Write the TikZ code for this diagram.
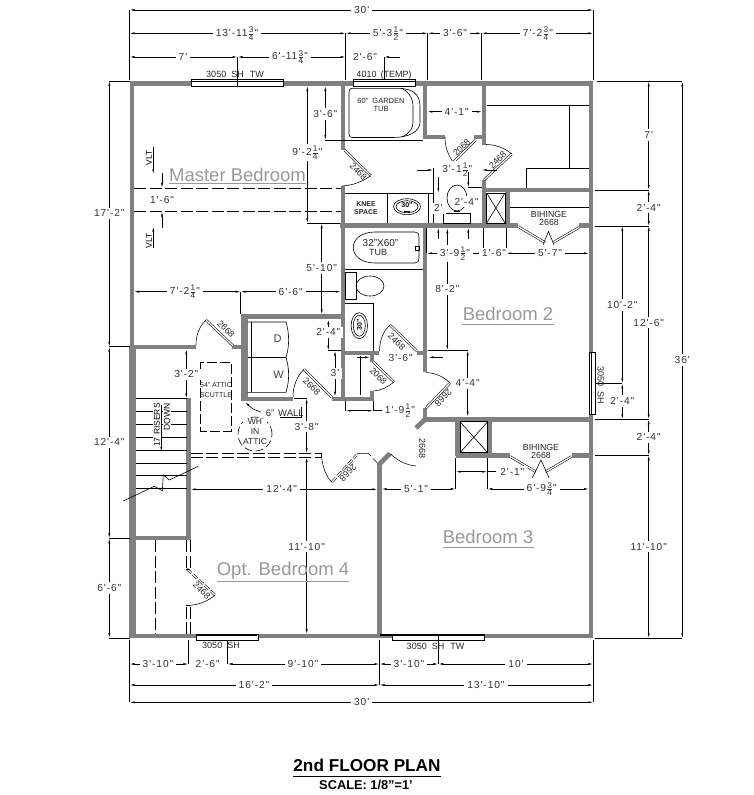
\documentclass[tikz,border=0pt]{standalone}
\usepackage{fontspec}
\setmainfont{Liberation Sans}
\newfontfamily\dimfont[LetterSpace=9]{Liberation Sans}
\usetikzlibrary{arrows.meta}
\definecolor{wallc}{HTML}{808080}
\definecolor{roomc}{HTML}{999999}
\newcommand{\fr}[2]{\mbox{$\frac{\hbox{\fontsize{8.3}{8.3}\selectfont\rmfamily #1}}{\hbox{\fontsize{8.3}{8.3}\selectfont\rmfamily #2}}$}}
\newcommand{\hd}[5]{\draw[dim] (#2,#1) -- (#3,#1); \node[lab] at (#4,#1) {#5};}
\newcommand{\vd}[5]{\draw[dim] (#1,#2) -- (#1,#3); \node[lab] at (#1,#4) {#5};}
\tikzset{
  wall/.style={draw=wallc,line width=4.8pt,line cap=butt,line join=miter},
  thin/.style={draw=black,line width=.6pt},
  leaf/.style={draw=black,double=white,double distance=1.3pt,line width=.55pt},
  swing/.style={draw=black,line width=.55pt},
  hid/.style={draw=black,line width=.6pt,dash pattern=on 12pt off 3.5pt},
  ext/.style={draw=black,line width=.6pt},
  tipb/.style={line width=.6pt,-{Latex[length=5pt,width=2pt]}},
  dim/.style={line width=.6pt,{Latex[length=5pt,width=2pt]}-{Latex[length=5pt,width=2pt]}},
  lab/.style={fill=white,inner xsep=3pt,inner ysep=2pt,text=black!80,font=\dimfont\fontsize{10.2}{11}\selectfont},
  tag/.style={inner sep=0pt,text=black!85,font=\fontsize{9}{9}\selectfont},
  room/.style={inner sep=0pt,text=roomc,font=\fontsize{18.5}{19}\selectfont},
}
\begin{document}
\begin{tikzpicture}[x=1pt,y=-1pt]
\useasboundingbox (0,0) rectangle (754,795);
% ---- outer and inner walls
\draw[wall] (192,83.5) -- (132,83.5) -- (132,636) -- (197,636);
\draw[wall,line width=6.7pt] (132.7,347) -- (132.7,638);
\draw[wall] (283,83.5) -- (353,83.5);
\draw[wall] (415,83.5) -- (591,83.5) -- (591,353);
\draw[wall] (591,414) -- (591,636) -- (484,636);
\draw[wall] (258,636) -- (393,636);
\draw[wall] (343,83.5) -- (343,150);
\draw[wall] (343,186) -- (343,399);
\draw[wall] (340,225.5) -- (518,225.5);
\draw[wall] (579,225.5) -- (589,225.5);
\draw[wall] (425,83.5) -- (425,137) -- (445,137);
\draw[wall] (474,137) -- (484,137);
\draw[wall] (484,83.5) -- (484,144.5);
\draw[wall] (484,180) -- (484,226);
\draw[wall] (484,190) -- (589,190);
\draw[wall] (507.3,188) -- (507.3,226);
\draw[wall] (425,225) -- (425,372);
\draw[wall] (425,408) -- (425,421);
\draw[wall] (345,353) -- (379,353);
\draw[wall] (417,353) -- (427,353);
\draw[wall] (333,399) -- (372,399) -- (372,391.3);
\draw[wall] (372,353) -- (372,361.5);
\draw[wall] (425,419.3) -- (589,419.3);
\draw[wall] (426.5,418) -- (416,428);
\draw[wall] (457.8,419) -- (457.8,455.5);
\draw[wall] (490,419) -- (490,455.5);
\draw[wall] (455.5,455.5) -- (510,455.5);
\draw[wall] (571.7,455.5) -- (589,455.5);
\draw[wall] (134,347) -- (196,347);
\draw[wall] (232,347) -- (241,347);
\draw[wall,line width=7pt] (244.2,314) -- (244.2,401);
\draw[wall] (241,316.8) -- (341,316.8);
\draw[wall] (241,399) -- (293,399);
\draw[wall] (332,399) -- (345,399);
\draw[wall] (188.7,398.3) -- (188.7,540);
\draw[wall] (134,538) -- (191,538);
\draw[wall] (390,453.5) -- (379.5,464) -- (379.5,636);
% ---- windows
\foreach \xa/\xb in {191.5/283.5,353/415}{
  \fill[white] (\xa,79.5) rectangle (\xb,86);
  \draw[thin] (\xa,79.5) rectangle (\xb,86);
  \draw[thin] (\xa,81.5) -- (\xb,81.5);}
\draw[thin] (237.5,79.5) -- (237.5,86);
\draw[thin] (196.7,634) rectangle (258.3,640);
\draw[line width=2pt] (197,634.6) -- (257,634.6);
\draw[thin] (392.3,634) rectangle (484.3,640);
\draw[line width=2pt] (380,634.6) -- (393,634.6);
\draw[line width=1.6pt] (393,635) -- (484,635);
\draw[thin] (438.3,634) -- (438.3,640);
\fill[white] (589.3,352.7) rectangle (595.7,414);
\draw[thin] (589.3,352.7) rectangle (595.7,414);
\draw[thin] (591.5,352.7) -- (591.5,414);
\draw[line width=1.5pt] (589.5,408) -- (589.5,414);
% ---- fixtures, master bath
\draw[thin] (345,140) -- (422.7,140);
\draw[thin] (352,88.3) -- (398,88.3) .. controls (412,88.3) and (420,94) .. (420,106) -- (420,122) .. controls (420,132) and (408,137.5) .. (393,137.5) -- (352,137.5) .. controls (350,137.5) and (349,136) .. (349,134) -- (349,92) .. controls (349,90) and (350,88.3) .. (352,88.3);
\draw[thin] (402,88.3) .. controls (411,94) and (413,100) .. (413,106) -- (413,122) .. controls (413,128) and (410,133) .. (402,137);
\draw[thin] (345,193) -- (433.3,193);
\draw[thin] (387,193) -- (387,223);
\draw[thin] (427.8,193) -- (427.8,223);
\draw[thin] (433.3,168) -- (433.3,223);
\draw[thin] (407,206.7) ellipse [x radius=13.5pt,y radius=8pt];
\draw[thin] (407,206.7) ellipse [x radius=11pt,y radius=6pt];
\node[inner sep=0pt,font=\bfseries\fontsize{7}{7}\selectfont] (s1) at (407,205.5) {30"};
\draw[thin] (404,211) -- (410,211);
\draw[thin] (457,198) ellipse [x radius=10pt,y radius=13pt];
\draw[thin] (443.3,213.3) rectangle (470.7,223);
\draw[thin] (454,211) -- (460,211);
% closets upper right
\draw[thin] (486.5,105.3) -- (589,105.3);
\draw[thin] (569.3,105.3) -- (569.3,168);
\draw[thin] (526.3,187.5) -- (526.3,168) -- (589,168);
\draw[thin] (509.5,207.3) -- (589,207.3);
\draw[thin] (486.7,193) rectangle (505,223);
\draw[thin] (486.7,193) -- (505,223) (505,193) -- (486.7,223);
% lower bath
\draw[thin] (345,269.3) -- (422.7,269.3);
\draw[thin] (375,232) -- (415,232) .. controls (418,232) and (419,234) .. (419,237) -- (419,258) .. controls (419,261) and (418,263) .. (415,263) -- (375,263) .. controls (346,263) and (346,232) .. (375,232);
\draw[thin] (415.5,246.5) rectangle (419,250);
\draw[thin] (345,272) rectangle (356,299);
\draw[thin] (370,286) ellipse [x radius=14pt,y radius=10pt];
\draw[thin] (345,303) -- (373.7,303) -- (373.7,350.5);
\draw[thin] (359.3,325.7) ellipse [x radius=8.2pt,y radius=13pt];
\draw[thin] (359.3,325.7) ellipse [x radius=6pt,y radius=10.5pt];
\node[inner sep=0pt,rotate=90,font=\bfseries\fontsize{7}{7}\selectfont] (s2) at (359.5,324.5) {30"};
% X closet lower
\draw[thin] (460,421.7) rectangle (487.7,452.7);
\draw[thin] (460,421.7) -- (487.7,452.7) (487.7,421.7) -- (460,452.7);
% laundry
\draw[thin] (250.8,322) -- (250.8,392.3);
\draw[thin] (247.5,322) -- (286,322) .. controls (289.5,334) and (289.5,346) .. (286,357.3) .. controls (289.5,369) and (289.5,381) .. (286,392.3) -- (247.5,392.3);
\draw[thin] (247.5,357.3) -- (286,357.3);
\node[inner sep=0pt,text=black!75,font=\fontsize{11}{11}\selectfont] (dryer) at (277.5,338.5) {D};
\node[inner sep=0pt,text=black!75,font=\fontsize{11}{11}\selectfont] (washer) at (278.5,375) {W};
% stairs
\foreach \yy in {398.3,411.3,424.3,437.3,450.3,463.3,475.7,488.3}{\draw[thin] (136,\yy) -- (187,\yy);}
\draw[thin] (123.3,501) -- (154.3,486.3) -- (162.3,490.7) -- (163.3,475) -- (169.3,480) -- (198.3,466.3);
\node[inner sep=1pt,fill=white,rotate=90,font=\fontsize{8.5}{8.5}\selectfont] (riser) at (157,425) {17 RISERS};
\node[inner sep=1pt,fill=white,rotate=90,font=\fontsize{8.5}{8.5}\selectfont] (down) at (167,416.7) {DOWN};
\draw[tipb] (161.3,405) -- (161.3,452);
% ---- doors
\draw[leaf] (344.5,150) -- (370.7,175.7);
\draw[swing] (370.7,175.7) .. controls (362,182) and (352,185.5) .. (342,186);
\draw[leaf] (453.3,162.3) -- (475.7,140);
\draw[swing] (445,137) .. controls (445,147) and (448,155) .. (453.3,162.3);
\draw[leaf] (484,180) -- (511.7,154);
\draw[swing] (511.7,154) .. controls (505,148) and (495,144.5) .. (486,144.5);
\draw[leaf] (518,226.5) -- (545,242.5);
\draw[leaf] (579,227.5) -- (553,242.5);
\draw[swing] (543,245) -- (548.5,231.5) -- (554,245);
\draw[leaf] (510,456.5) -- (535.7,471.7);
\draw[leaf] (571.7,456.5) -- (545.7,471.7);
\draw[swing] (532.3,477.7) -- (541,460) -- (549,477.7);
\draw[leaf] (417,351) -- (390,325);
\draw[swing] (390,325) .. controls (383,331) and (379.5,341) .. (379.5,351);
\draw[leaf] (373,361.5) -- (394,382);
\draw[swing] (394,382) .. controls (388,387) and (381,390.5) .. (373.5,391);
\draw[leaf] (450,383) -- (426,408);
\draw[swing] (426,372.5) .. controls (436,373) and (444,377) .. (450,383);
\draw[leaf] (416,428.5) -- (416,466);
\draw[swing] (416,466) .. controls (405,465) and (397,460) .. (390,453.5);
\draw[leaf] (206,320) -- (233,345.7);
\draw[swing] (196,345) .. controls (196,335) and (199,327) .. (206,320);
\draw[leaf] (304,369.3) -- (332,397.5);
\draw[swing] (293,397) .. controls (293,386) and (297,376) .. (304,369.3);
\draw[leaf,dash pattern=on 6pt off 2pt] (332,482) -- (356.7,455);
\draw[swing] (321.7,458) .. controls (323,468) and (326,476) .. (331.7,482.3);
\draw[thin] (356.7,453.3) -- (368.3,453.3) -- (371,456);
\draw[thin] (373,458.5) -- (377,462.5);
\draw[leaf,dash pattern=on 6pt off 2pt] (187,569) -- (215,595);
\draw[swing] (215,595) .. controls (208,601) and (200,604.5) .. (190,605.3);
% ---- hidden lines
\draw[hid] (134,188.3) -- (341,188.3);
\draw[hid] (134,211.3) -- (341,211.3);
\draw[hid] (190.5,453.3) -- (321.7,453.3);
\draw[hid] (190.5,457.3) -- (321.7,457.3);
\draw[swing] (321.7,453.3) -- (321.7,458);
\draw[hid] (155.3,540) -- (155.3,634);
\foreach \xx in {186.3,190.3}{\draw[hid] (\xx,540) -- (\xx,569); \draw[hid] (\xx,634) -- (\xx,605.3);}
\draw[swing] (186.3,605.3) -- (190.3,605.3);
\draw[swing] (186.3,569) -- (190.3,569);
\draw[hid,dash pattern=on 10pt off 3pt] (200.7,362.3) rectangle (231.3,431);
\draw[hid,dash pattern=on 8pt off 3.5pt] (255,434) circle [radius=17pt];
% ---- extension lines
\draw[ext] (129.5,10) -- (129.5,80) (593.3,10) -- (593.3,80);
\draw[ext] (345.7,33.3) -- (345.7,80) (427.7,33.3) -- (427.7,80) (481.7,33.3) -- (481.7,80);
\draw[ext] (237.5,57) -- (237.5,80) (384,57) -- (384,79);
\draw[ext] (109,81) -- (129.5,81) (109,346.7) -- (130,346.7) (109,538.3) -- (130,538.3) (109,638.3) -- (129.5,638.3);
\draw[ext] (129.5,640) -- (129.5,702.3) (593.3,640) -- (593.3,702.3) (379.5,640) -- (379.5,685);
\draw[ext] (188.3,640) -- (188.3,664) (227.5,640) -- (227.5,664) (438.3,640) -- (438.3,664);
\draw[ext] (597,81.3) -- (682.3,81.3) (595,190) -- (648.7,190) (595,226) -- (648.7,226) (596,383.3) -- (622.3,383.3) (595,419.3) -- (648.7,419.3) (595,455.3) -- (648.7,455.3) (595,638.3) -- (682.3,638.3);
\draw[ext] (325.3,140) -- (345,140) (307.3,223.3) -- (340,223.3);
\draw[ext] (240.7,291.7) -- (240.7,314) (328.3,350.7) -- (341,350.7) (293.5,398.3) -- (306.7,398.3);
\draw[ext] (455.7,458) -- (455.7,489) (487.3,458) -- (487.3,489);
\draw[ext] (468.3,187.3) -- (482,187.3);
\draw[ext] (427.5,350.3) -- (467.7,350.3);
\draw[ext] (426.7,228) -- (426.7,253.3) (483.3,228) -- (483.3,253.3) (506.3,228) -- (506.3,253.3);
\draw[ext] (360.7,355.5) -- (360.7,395);
\draw[ext] (345.7,401) -- (345.7,410.7) (373.3,401) -- (373.3,410.7);
% ---- dimensions: top
\hd{10}{129.5}{593.3}{361.7}{30'}
\hd{33.3}{129.5}{345.7}{237}{13'-11\fr{3}{4}"}
\hd{33.3}{345.7}{427.7}{388}{5'-3\fr{1}{2}"}
\hd{33.3}{427.7}{481.7}{455}{3'-6"}
\hd{33.3}{481.7}{593.3}{538}{7'-2\fr{3}{4}"}
\hd{57}{129.5}{237.5}{183}{7'}
\hd{57}{237.5}{345.7}{290}{6'-11\fr{3}{4}"}
\draw[tipb] (400,57) -- (384,57);
\node[lab] (d1) at (365,57) {2'-6"};
% left
\vd{109.3}{81}{346.7}{213.3}{17'-2"}
\vd{109.3}{346.7}{538.3}{442.3}{12'-4"}
\vd{109.3}{538.3}{638}{588}{6'-6"}
% bottom
\hd{664}{129.5}{188.3}{158}{3'-10"}
\draw[dim] (227.5,664) -- (379.5,664);
\node[lab] (d2) at (303,664) {9'-10"};
\node[lab] (d3) at (207.7,664) {2'-6"};
\hd{664}{379.5}{438.3}{409}{3'-10"}
\hd{664}{438.3}{593.3}{516}{10'}
\hd{685}{129.5}{379.5}{254}{16'-2"}
\hd{685}{379.5}{593.3}{486}{13'-10"}
\hd{702.3}{129.5}{593.3}{361.7}{30'}
% right
\vd{648.7}{81.3}{190}{135}{7'}
\vd{648.7}{190}{226}{207.7}{2'-4"}
\vd{648.7}{226}{419.3}{322.7}{12'-6"}
\vd{648.7}{419.3}{455.3}{437.3}{2'-4"}
\vd{648.7}{455.3}{638.3}{546.7}{11'-10"}
\vd{682.3}{81.3}{638.3}{360}{36'}
\vd{622.3}{226}{383.3}{305}{10'-2"}
\vd{622.3}{383.3}{419.3}{401}{2'-4"}
% interior
\vd{325.3}{86}{140}{114}{3'-6"}
\vd{307.3}{86}{223.3}{152.7}{9'-2\fr{1}{4}"}
\vd{321.7}{223.3}{314.3}{268}{5'-10"}
\draw[tipb] (162,173) -- (162,188);
\draw[tipb] (162,228) -- (162,211.5);
\node[lab] (d4) at (162,200) {1'-6"};
\draw[tipb] (153.3,147) -- (153.3,174);
\draw[tipb] (153.3,248) -- (153.3,226.7);
\node[inner sep=0pt,rotate=90,font=\fontsize{8.5}{8.5}\selectfont] (v1) at (149,158) {VLT};
\node[inner sep=0pt,rotate=90,font=\fontsize{8.5}{8.5}\selectfont] (v2) at (149,241) {VLT};
\hd{291.7}{134}{240.7}{185}{7'-2\fr{1}{4}"}
\hd{291.7}{240.7}{340.7}{290.7}{6'-6"}
\vd{328.3}{319.3}{350.7}{332.3}{2'-4"}
\vd{335}{350.7}{396.7}{373.3}{3'}
\vd{186.3}{349.3}{398.3}{374.3}{3'-2"}
\vd{306.7}{398.3}{453.3}{426.7}{3'-8"}
\vd{306.7}{457.3}{634}{546.7}{11'-10"}
\hd{489.3}{190.7}{377.3}{281.7}{12'-4"}
\hd{489}{381.7}{455.7}{416}{5'-1"}
\hd{489}{487.3}{589}{541.7}{6'-9\fr{3}{4}"}
\draw[dim] (455.7,471.7) -- (487.3,471.7);
\draw[thin] (487.3,471.7) -- (496,471.7);
\node[lab] (d5) at (512.3,471.7) {2'-1"};
\hd{111.7}{427.3}{482}{456.7}{4'-1"}
\draw[tipb] (417.3,170) -- (433.3,170);
\draw[tipb] (497,170) -- (481.7,170);
\node[lab] (d6) at (457.3,170) {3'-1\fr{1}{2}"};
\draw[tipb] (438.3,176.7) -- (438.3,193);
\draw[tipb] (438.3,239) -- (438.3,227.5);
\node[lab] (d7) at (438.3,208.3) {2'};
\draw[tipb] (468.3,171.7) -- (468.3,187.3);
\draw[tipb] (468.3,239) -- (468.3,227.5);
\node[lab] (d8) at (466.5,201.7) {2'-4"};
\vd{447.3}{228}{350.3}{289.3}{8'-2"}
\vd{467.7}{350.3}{416.7}{383.3}{4'-4"}
\hd{253.3}{426.7}{483.3}{455}{3'-9\fr{1}{2}"}
\hd{253.3}{483.3}{506.3}{494}{1'-6"}
\hd{253.3}{506.3}{589}{550}{5'-7"}
\draw[tipb] (357,357.3) -- (370,357.3);
\draw[tipb] (443,357.3) -- (428.3,357.3);
\node[lab] (d9) at (400.7,357.6) {3'-6"};
\draw[dim] (345.7,410.7) -- (373.3,410.7);
\draw[thin] (373.3,410.7) -- (383,410.7);
\node[lab] (d10) at (400,410.7) {1'-9\fr{1}{2}"};
% leader
\draw[thin,{Latex[length=5pt,width=2pt]}-] (245,402.3) -- (253,409) -- (260.7,412);
\node[tag,font=\fontsize{9.5}{9.5}\selectfont] (wl0) at (270,413) {6"};
\node[tag,font=\fontsize{9.5}{9.5}\selectfont] (wl) at (291,413) {WALL};
\draw[thin] (280,417.3) -- (301.7,417.3) -- (301.7,407);
% ---- text labels
\node[tag] (t1) at (235,74) {3050\hspace{5pt}SH\hspace{6pt}TW};
\node[tag] (t2) at (384,75) {4010\hspace{4pt}(TEMP)};
\node[tag] (t3) at (221,645.7) {3050\hspace{5pt}SH};
\node[tag] (t4) at (435.5,646) {3050\hspace{5pt}SH\hspace{6pt}TW};
\node[tag,rotate=-90] (t5) at (600.7,385) {3050\hspace{5pt}SH};
\node[tag,font=\fontsize{7.5}{8}\selectfont] (t6) at (381,100.5) {60"\hspace{2pt} GARDEN};
\node[tag,font=\fontsize{7.5}{8}\selectfont] (t6c) at (381,108.5) {TUB};
\node[tag,align=center,font=\bfseries\fontsize{7}{7.6}\selectfont] (t7) at (366,208) {KNEE\\SPACE};
\node[tag,font=\fontsize{10}{10}\selectfont] (t8a) at (380.5,243) {32"X60"};
\node[tag,font=\fontsize{9}{9}\selectfont] (t8b) at (378,252.3) {TUB};
\node[tag,align=center,font=\fontsize{8.8}{8}\selectfont] (t9) at (549,218.5) {BIHINGE\\2668};
\node[tag,align=center,font=\fontsize{8.8}{8}\selectfont] (t10) at (541,451.5) {BIHINGE\\2668};
\node[tag,align=center,font=\fontsize{7}{10}\selectfont] (t11) at (216,390) {54" ATTIC\\SCUTTLE};
\node[fill=white,inner sep=.5pt,align=center,text=black!85,font=\fontsize{8.5}{10}\selectfont] (t12) at (255,432) {WH\\IN\\ATTIC};
\node[tag,rotate=-45] (c1) at (358.3,171.7) {2468};
\node[tag,rotate=45] (c2) at (461.7,147.7) {2068};
\node[tag,rotate=45] (c3) at (497.7,160) {2468};
\node[tag,rotate=-45] (c4) at (396.7,341.7) {2468};
\node[tag,rotate=-45] (c5) at (378.3,376) {2068};
\node[tag,rotate=225] (c6) at (443.3,397.7) {2668};
\node[tag,rotate=-90] (c7) at (422.3,448.3) {2668};
\node[tag,rotate=-45] (c8) at (226,329) {2668};
\node[tag,rotate=-45] (c9) at (311.7,386.7) {2668};
\node[tag,rotate=225] (c10) at (348,472.7) {2668};
\node[tag,rotate=-45] (c11) at (201.7,590.7) {2468};
% ---- rooms
\node[room] (r1) at (237.5,175) {Master Bedroom};
\draw[roomc,line width=.8pt] (169,183.5) -- (306,183.5);
\node[room] (r2) at (508,314) {Bedroom 2};
\draw[roomc,line width=.8pt] (462,324) -- (554,324);
\node[room] (r3) at (488,537) {Bedroom 3};
\draw[roomc,line width=.8pt] (442.5,547) -- (534,547);
\node[room] (r4) at (283,571) {Opt. Bedroom 4};
\draw[roomc,line width=.8pt] (217,581) -- (349,581);
% ---- title
\node[inner sep=0pt,font=\bfseries\fontsize{17.2}{18}\selectfont] (title) at (367,765.5) {2nd FLOOR PLAN};
\draw[line width=.8pt] (293,776) -- (441,776);
\node[inner sep=0pt,font=\bfseries\fontsize{12.8}{14}\selectfont] (scale) at (366,785) {SCALE: 1/8"=1'};
\end{tikzpicture}
\end{document}
